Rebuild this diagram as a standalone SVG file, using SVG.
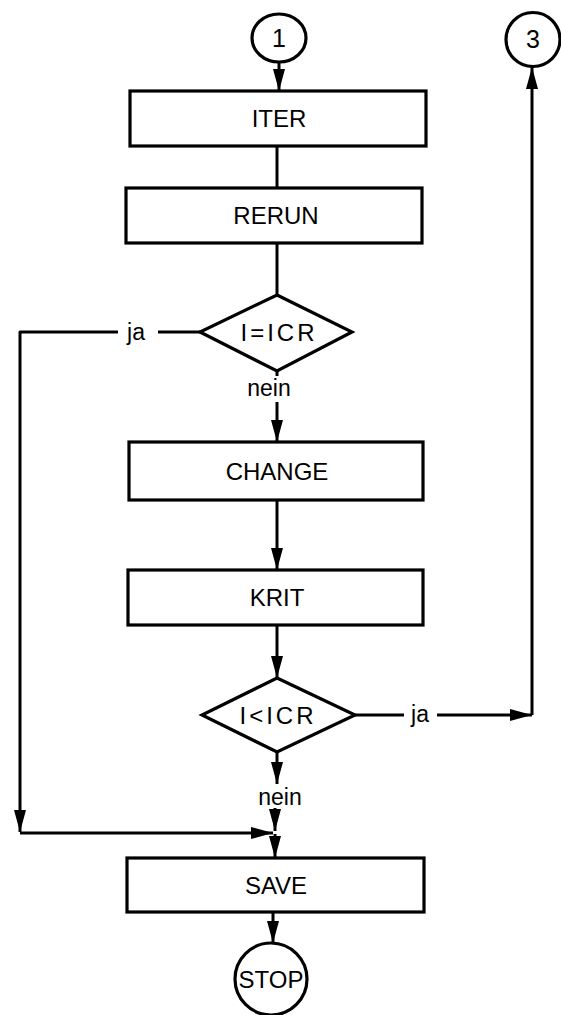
<svg xmlns="http://www.w3.org/2000/svg" width="561" height="1015" viewBox="0 0 561 1015">
<style>
.s{fill:none;stroke:#000;stroke-width:3;stroke-linejoin:round}
.n{fill:#fff;stroke:#000;stroke-width:3.2}
.t{font-family:"Liberation Sans",Arial,sans-serif;font-size:24px;fill:#000;text-anchor:middle}
.l{font-family:"Liberation Sans",Arial,sans-serif;font-size:23px;fill:#000;text-anchor:middle}
.d{letter-spacing:3px}
</style>
<defs>
<marker id="a" markerUnits="userSpaceOnUse" markerWidth="24" markerHeight="14" refX="22" refY="7" orient="auto">
<path d="M0,1 L22,7 L0,13 z" fill="#000"/>
</marker>
</defs>
<g id="connectors">
<line class="s" x1="279" y1="62" x2="279" y2="91" marker-end="url(#a)"/>
<line class="s" x1="277" y1="146" x2="277" y2="188"/>
<line class="s" x1="277" y1="243" x2="277" y2="295"/>
<path class="s" d="M200,332 H158"/>
<path class="s" d="M118,332 H20 V832" marker-end="url(#a)"/>
<path class="s" d="M20,833 H273" marker-end="url(#a)"/>
<line class="s" x1="277" y1="371" x2="277" y2="376"/>
<line class="s" x1="277" y1="402" x2="277" y2="442" marker-end="url(#a)"/>
<line class="s" x1="277" y1="500" x2="277" y2="570" marker-end="url(#a)"/>
<line class="s" x1="277" y1="625" x2="277" y2="678" marker-end="url(#a)"/>
<path class="s" d="M355,715 H404"/>
<path class="s" d="M437,715 H532" marker-end="url(#a)"/>
<path class="s" d="M532,715 V67" marker-end="url(#a)"/>
<line class="s" x1="277" y1="752" x2="277" y2="784" marker-end="url(#a)"/>
<line class="s" x1="275" y1="808" x2="275" y2="831" marker-end="url(#a)"/>
<line class="s" x1="275" y1="834" x2="275" y2="858" marker-end="url(#a)"/>
<line class="s" x1="273" y1="912" x2="273" y2="943" marker-end="url(#a)"/>
<text class="l" x="136" y="340">ja</text>
<text class="l" x="269" y="396">nein</text>
<text class="l" x="420" y="722">ja</text>
<text class="l" x="280" y="805">nein</text>
</g>
<g id="c1"><ellipse class="n" cx="279" cy="38" rx="27" ry="24"/><text class="t" x="279" y="47" style="font-size:25px">1</text></g>
<g id="c3"><circle class="n" cx="533" cy="39.5" r="27"/><text class="t" x="533" y="48" style="font-size:25px">3</text></g>
<g id="iter"><rect class="n" x="130" y="91" width="296" height="55"/><text class="t" x="279" y="127">ITER</text></g>
<g id="rerun"><rect class="n" x="126" y="188" width="296" height="55"/><text class="t" x="276" y="224">RERUN</text></g>
<g id="d1"><polygon class="n" points="277,295 352,332 277,371 200,332"/><text class="t d" x="279" y="341">I=ICR</text></g>
<g id="change"><rect class="n" x="129" y="442" width="294" height="58"/><text class="t" x="277" y="480">CHANGE</text></g>
<g id="krit"><rect class="n" x="128" y="570" width="295" height="55"/><text class="t" x="277" y="606">KRIT</text></g>
<g id="d2"><polygon class="n" points="277,678 355,715 277,752 202,715"/><text class="t d" x="278" y="724">I&lt;ICR</text></g>
<g id="save"><rect class="n" x="127" y="858" width="297" height="54"/><text class="t" x="276" y="894">SAVE</text></g>
<g id="stop"><circle class="n" cx="271" cy="979" r="36"/><text class="t" x="271" y="988" style="font-size:24px">STOP</text></g>
</svg>
